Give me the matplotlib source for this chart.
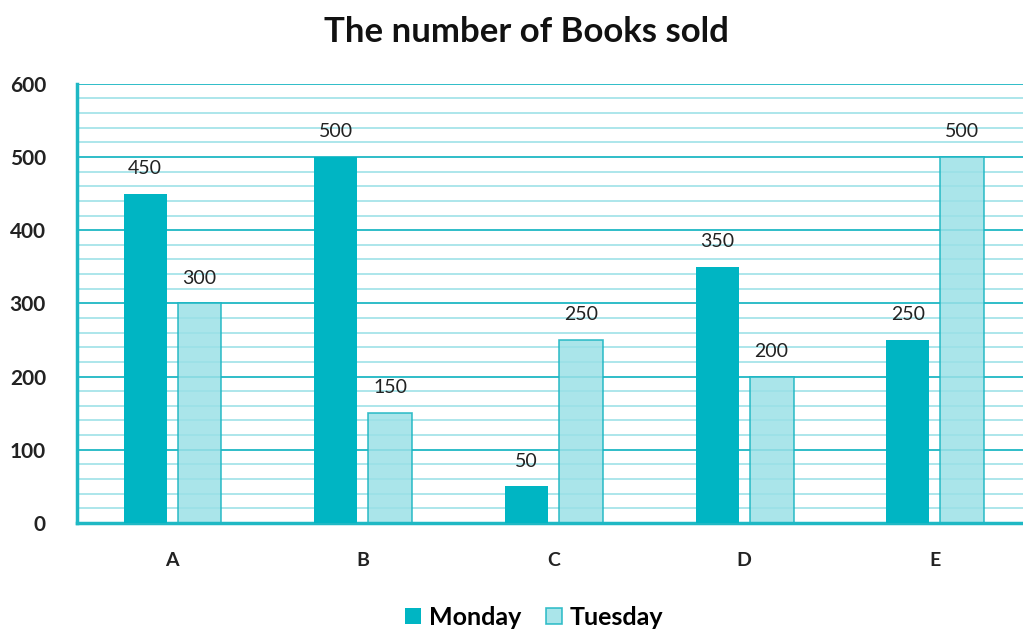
import numpy as np
import matplotlib.pyplot as plt
from matplotlib.ticker import MultipleLocator

tiendas = ["A", "B", "C", "D", "E"]
lunes = [450, 500, 50, 350, 250]
martes = [300, 150, 250, 200, 500]

color_lunes = "#00B5C3"
color_martes = "#9BE1E7"
color_borde = "#1AB5C2"

plt.rcParams["font.family"] = ["Lato", "DejaVu Sans"]

fig = plt.figure(figsize=(10.23, 6.3), dpi=100)
ax = fig.add_axes([0.0748, 0.170, 0.932, 0.697])

x = np.arange(len(tiendas))
ancho = 0.225

ax.set_axisbelow(True)
ax.yaxis.set_major_locator(MultipleLocator(100))
ax.yaxis.set_minor_locator(MultipleLocator(20))
ax.grid(which="major", axis="y", color="#1FB8C4", linewidth=1.3)
ax.grid(which="minor", axis="y", color="#A6E4E9", linewidth=1.3)

b1 = ax.bar(x - 0.14, lunes, ancho, color=color_lunes, label="Monday", zorder=3)
b2 = ax.bar(x + 0.145, martes, 0.23, color=color_martes, alpha=0.85,
            edgecolor=color_borde, linewidth=1.2, label="Tuesday", zorder=1)

for barras in (b1, b2):
    for b in barras:
        ax.annotate(str(int(b.get_height())),
                    (b.get_x() + b.get_width() / 2, b.get_height()),
                    xytext=(0, 12), textcoords="offset points",
                    ha="center", va="bottom", fontsize=14, color="#222222")

ax.set_xlim(-0.5, 4.5)
ax.set_ylim(0, 600)
ax.set_xticks(x)
ax.set_xticklabels(tiendas, fontsize=14, fontweight="bold", color="#222222")
ax.tick_params(axis="x", length=0, pad=21)
ax.tick_params(axis="y", which="both", length=0, pad=22, labelsize=15)
for t in ax.get_yticklabels():
    t.set_fontweight("bold")
    t.set_color("#222222")

for s in ["top", "right"]:
    ax.spines[s].set_visible(False)
ax.spines["left"].set_color("#1FB8C4")
ax.spines["left"].set_linewidth(2.5)
ax.spines["bottom"].set_color("#1FB8C4")
ax.spines["bottom"].set_linewidth(2.5)

fig.suptitle("The number of Books sold", x=0.515, y=0.975, fontsize=25,
             fontweight="bold", color="#111111")

fig.legend(loc="lower center", ncol=2, frameon=False, bbox_to_anchor=(0.522, -0.034),
           prop={"size": 18, "weight": "bold"}, handlelength=0.65, handleheight=0.65,
           handletextpad=0.3, columnspacing=1.0)

fig.savefig("out.png", dpi=100)
